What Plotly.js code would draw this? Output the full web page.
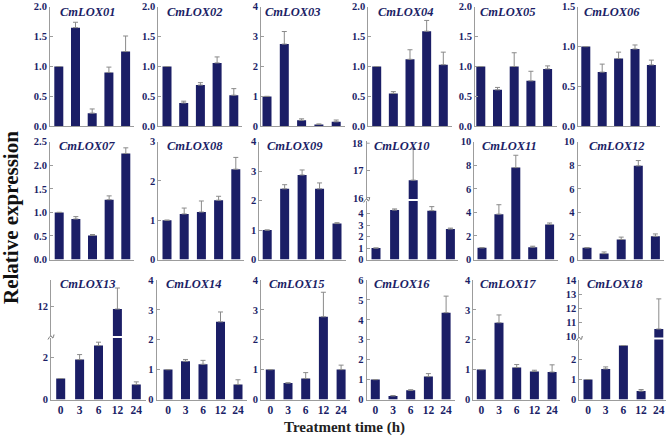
<!DOCTYPE html>
<html>
<head>
<meta charset="utf-8">
<script src="https://cdn.plot.ly/plotly-3.0.1.min.js"></script>
<style>html,body{margin:0;padding:0;background:#fff}#chart{width:669px;height:448px}</style>
</head>
<body>
<div id="chart"></div>
<script>
var times = ['0', '3', '6', '12', '24'];
var genes = ['CmLOX01', 'CmLOX02', 'CmLOX03', 'CmLOX04', 'CmLOX05', 'CmLOX06',
             'CmLOX07', 'CmLOX08', 'CmLOX09', 'CmLOX10', 'CmLOX11', 'CmLOX12',
             'CmLOX13', 'CmLOX14', 'CmLOX15', 'CmLOX16', 'CmLOX17', 'CmLOX18'];

// relative expression (mean) and error per gene
var lox01 = [1.00, 1.65, 0.22, 0.90, 1.25];   var lox01Err = [0, 0.09, 0.07, 0.09, 0.26];
var lox02 = [1.00, 0.39, 0.69, 1.06, 0.52];   var lox02Err = [0, 0.03, 0.04, 0.10, 0.11];
var lox03 = [1.00, 2.75, 0.20, 0.06, 0.15];   var lox03Err = [0, 0.42, 0.05, 0.02, 0.06];
var lox04 = [1.00, 0.55, 1.12, 1.59, 1.03];   var lox04Err = [0, 0.03, 0.16, 0.18, 0.21];
var lox05 = [1.00, 0.61, 1.00, 0.76, 0.96];   var lox05Err = [0, 0.04, 0.23, 0.16, 0.05];
var lox06 = [1.00, 0.68, 0.85, 0.97, 0.77];   var lox06Err = [0, 0.10, 0.08, 0.05, 0.06];
var lox07 = [1.00, 0.86, 0.51, 1.27, 2.25];   var lox07Err = [0, 0.05, 0.02, 0.08, 0.12];
var lox08 = [1.00, 1.16, 1.21, 1.51, 2.30];   var lox08Err = [0, 0.15, 0.28, 0.10, 0.30];
var lox09 = [1.00, 2.40, 2.87, 2.40, 1.22];   var lox09Err = [0, 0.14, 0.17, 0.20, 0.03];
var lox10 = [1.00, 4.30, 16.65, 4.25, 2.65];  var lox10Err = [0, 0.10, 1.15, 0.35, 0.08];
var lox11 = [1.00, 3.85, 7.80, 1.05, 2.98];   var lox11Err = [0, 0.80, 1.05, 0.08, 0.12];
var lox12 = [1.00, 0.50, 1.70, 7.95, 1.97];   var lox12Err = [0, 0.14, 0.20, 0.45, 0.20];
var lox13 = [1.00, 1.90, 2.57, 11.70, 0.71];  var lox13Err = [0, 0.24, 0.16, 2.10, 0.13];
var lox14 = [1.00, 1.28, 1.18, 2.60, 0.50];   var lox14Err = [0, 0.06, 0.13, 0.33, 0.16];
var lox15 = [1.00, 0.55, 0.70, 2.77, 1.00];   var lox15Err = [0, 0.01, 0.20, 0.82, 0.15];
var lox16 = [1.00, 0.18, 0.46, 1.15, 4.36];   var lox16Err = [0, 0.02, 0.03, 0.15, 0.83];
var lox17 = [1.00, 2.57, 1.07, 0.94, 0.92];   var lox17Err = [0, 0.26, 0.10, 0.04, 0.24];
var lox18 = [1.00, 1.53, 2.70, 0.42, 10.55];  var lox18Err = [0, 0.10, 0, 0.08, 2.15];

var values = [lox01, lox02, lox03, lox04, lox05, lox06, lox07, lox08, lox09,
              lox10, lox11, lox12, lox13, lox14, lox15, lox16, lox17, lox18];
var errors = [lox01Err, lox02Err, lox03Err, lox04Err, lox05Err, lox06Err, lox07Err, lox08Err, lox09Err,
              lox10Err, lox11Err, lox12Err, lox13Err, lox14Err, lox15Err, lox16Err, lox17Err, lox18Err];

// y axis top and tick step of the plain panels
var yTop  = [2, 2, 4, 2, 2, 1.5, 2.5, 3, 4, 0, 10, 10, 0, 4, 4, 6, 4, 0];
var yStep = [0.5, 0.5, 1, 0.5, 0.5, 0.5, 0.5, 1, 1, 0, 2, 2, 0, 1, 1, 1, 1, 0];

// panels with a broken y axis
var broken = {
  9:  {low: [0, 5.09], lowTicks: [0, 1, 2, 3, 4], lowPx: [259.5, 201],
       high: [15.96, 18.1], highTicks: [16, 17], topLabel: 18, highPx: [199, 140.5]},
  12: {low: [0, 2.93], lowTicks: [0, 2], lowPx: [399.5, 338],
       high: [9, 14.6], highTicks: [12], highPx: [336, 280]},
  17: {low: [0, 3.0], lowTicks: [0, 1, 2], lowPx: [399.5, 339.5],
       high: [9.94, 14.05], highTicks: [10, 11, 12, 13, 14], highPx: [337.5, 280]}
};

// panel geometry in pixels
var axisX  = [50, 158.3, 261, 368.3, 475, 578.3, 50, 158.3, 259.3, 366.7, 474.3, 577.7, 51, 156.7, 261, 366.7, 473.3, 579.3];
var firstC = [58.8, 167, 267, 376.7, 480.8, 585.8, 59.2, 167, 267.2, 376, 482, 587, 60.7, 168, 270.3, 375.3, 481.3, 588];
var step   = [16.7, 16.7, 17.3, 16.65, 16.7, 16.4, 16.65, 17.2, 17.45, 18.6, 16.9, 17.1, 18.9, 17.5, 17.7, 17.7, 17.7, 17.7];
var rightX = [134, 242, 345, 452, 557, 660, 134, 244, 346, 458, 558, 664, 146, 247, 350, 455, 560, 666];
var titleDx = [8, 7, 2, 8, 3, 4, 7, 7, 6, 5, 6, 9, 7, 7, 6, 5, 5, 6];
var rowTop = [6.7, 141.7, 280];
var rowBot = [126.3, 259.5, 399.5];
var titleY = [12.5, 145.5, 283.5];

var W = 669, H = 448;
var navy = '#1b1e66', lineCol = '#9c9c9c', errCol = '#8a8a8a';
var serif = 'Liberation Serif, Times New Roman, serif';
var tickFont = {family: serif, size: 10.5, color: navy, weight: 'bold'};
function px(p) { return p / W; }
function py(p) { return 1 - p / H; }

var layout = {
  width: W, height: H,
  margin: {l: 0, r: 0, t: 0, b: 0},
  showlegend: false,
  paper_bgcolor: '#fff',
  plot_bgcolor: 'rgba(0,0,0,0)',
  annotations: [],
  shapes: []
};
var data = [];

function yAxis(dom, range, xName) {
  return {
    domain: [py(dom[0]), py(dom[1])], range: range, anchor: xName,
    showline: true, linecolor: lineCol, linewidth: 1,
    ticks: 'inside', ticklen: 3, tickcolor: lineCol,
    showgrid: false, zeroline: false, fixedrange: true,
    ticklabeloverflow: 'allow',
    tickfont: tickFont
  };
}

function barTrace(i, xName, yName) {
  return {
    type: 'bar', x: times, y: values[i],
    xaxis: xName, yaxis: yName,
    width: 9 / step[i],
    marker: {color: navy, line: {width: 0}},
    error_y: {
      type: 'data', symmetric: false,
      array: errors[i].map(function (e) { return e > 0 ? e : NaN; }),
      arrayminus: errors[i].map(function () { return 0; }),
      color: errCol, thickness: 1, width: 2.5
    },
    hoverinfo: 'skip'
  };
}

var extraY = 19;
for (var i = 0; i < 18; i++) {
  var row = Math.floor(i / 6);
  var n = i + 1;
  var xKey = 'xaxis' + (n === 1 ? '' : n), yKey = 'yaxis' + (n === 1 ? '' : n);
  var xName = 'x' + (n === 1 ? '' : n), yName = 'y' + (n === 1 ? '' : n);
  var r0 = -(firstC[i] - axisX[i]) / step[i];
  var r1 = 4 + (rightX[i] - (firstC[i] + 4 * step[i])) / step[i];

  layout[xKey] = {
    domain: [px(axisX[i]), px(rightX[i])], range: [r0, r1], type: 'category',
    anchor: yName, showline: true, linecolor: lineCol, linewidth: 1,
    ticks: '', showgrid: false, zeroline: false, fixedrange: true,
    showticklabels: row === 2,
    tickfont: {family: serif, size: 11.5, color: navy, weight: 'bold'}
  };

  var b = broken[i];
  if (b) {
    layout[yKey] = yAxis(b.lowPx, b.low, xName);
    layout[yKey].tickvals = b.lowTicks;
    var upKey = 'yaxis' + extraY, upName = 'y' + extraY;
    layout[upKey] = yAxis(b.highPx, b.high, xName);
    layout[upKey].tickvals = b.highTicks;
    data.push(barTrace(i, xName, yName));
    data.push(barTrace(i, xName, upName));
    extraY++;
    if (b.topLabel) {
      // top label of the upper segment, written next to the axis
      var frac = (b.topLabel - b.high[0]) / (b.high[1] - b.high[0]);
      var yPx = b.highPx[0] - frac * (b.highPx[0] - b.highPx[1]);
      layout.annotations.push({
        xref: 'paper', yref: 'paper', x: px(axisX[i] - 2), y: py(yPx),
        xanchor: 'right', yanchor: 'middle', showarrow: false, text: String(b.topLabel),
        font: tickFont
      });
      layout.shapes.push({
        type: 'line', xref: 'paper', yref: 'paper',
        x0: px(axisX[i]), x1: px(axisX[i] + 3), y0: py(yPx), y1: py(yPx),
        line: {color: lineCol, width: 1}
      });
    }
    // small break mark on the axis
    var bx = axisX[i], byp = (b.lowPx[1] + b.highPx[0]) / 2;
    layout.shapes.push({
      type: 'path', xref: 'paper', yref: 'paper',
      path: 'M ' + px(bx - 3) + ' ' + py(byp + 2.5) + ' Q ' + px(bx) + ' ' + py(byp - 3) +
            ' ' + px(bx + 1) + ' ' + py(byp) + ' T ' + px(bx + 3) + ' ' + py(byp - 2.5),
      line: {color: '#777', width: 1}
    });
  } else {
    layout[yKey] = yAxis([rowBot[row], rowTop[row]], [0, yTop[i]], xName);
    layout[yKey].dtick = yStep[i];
    layout[yKey].tick0 = 0;
    if (yStep[i] < 1) layout[yKey].tickformat = '.1f';
    data.push(barTrace(i, xName, yName));
  }

  layout.annotations.push({
    xref: 'paper', yref: 'paper', x: px(axisX[i] + titleDx[i]), y: py(titleY[row]),
    xanchor: 'left', yanchor: 'middle', showarrow: false, text: genes[i],
    font: {family: serif, size: 12.5, color: navy, weight: 'bold', style: 'italic'}
  });
}

layout.annotations.push({
  xref: 'paper', yref: 'paper', x: px(11), y: py(218), textangle: -90,
  xanchor: 'center', yanchor: 'middle', showarrow: false, text: 'Relative expression',
  font: {family: serif, size: 21, color: '#111', weight: 'bold'}
});
layout.annotations.push({
  xref: 'paper', yref: 'paper', x: px(344), y: py(427),
  xanchor: 'center', yanchor: 'middle', showarrow: false, text: 'Treatment time (h)',
  font: {family: serif, size: 15, color: '#222', weight: 'bold'}
});

Plotly.newPlot('chart', data, layout, {staticPlot: true});
</script>
</body>
</html>
